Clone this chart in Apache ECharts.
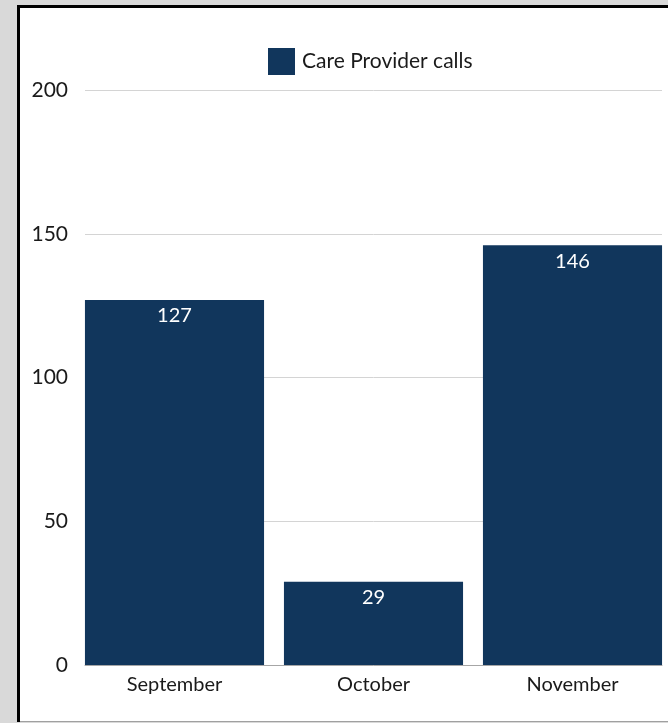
<!DOCTYPE html>
<html>
<head>
<meta charset="utf-8">
<script src="https://cdn.jsdelivr.net/npm/echarts@6/dist/echarts.min.js"></script>
<style>
  html, body { margin: 0; padding: 0; background: #d9d9d9; }
  #chart { width: 668px; height: 723px; }
</style>
</head>
<body>
<div id="chart"></div>
<script>
// Monthly call volume
const months = ['September', 'October', 'November'];
const careProviderCalls = [127, 29, 146];
const yTicks = [0, 50, 100, 150, 200];
const seriesName = 'Care Provider calls';

const FONT = 'Lato';
const BAR_COLOR = '#11365c';
const TEXT_COLOR = '#1a1a1a';

const chart = echarts.init(document.getElementById('chart'), null, { renderer: 'canvas' });

const yMin = yTicks[0];
const yMax = yTicks[yTicks.length - 1];
const yStep = yTicks[1] - yTicks[0];

chart.setOption({
  backgroundColor: '#d9d9d9',
  animation: false,
  textStyle: { fontFamily: FONT },
  graphic: [
    // white panel with a heavy top/left rule and a thin bottom rule
    { type: 'rect', z: -10, shape: { x: 17, y: 5, width: 660, height: 717 }, style: { fill: '#ffffff' } },
    { type: 'rect', z: -9, shape: { x: 17, y: 5, width: 3, height: 717 }, style: { fill: '#000000' } },
    { type: 'rect', z: -9, shape: { x: 17, y: 5, width: 660, height: 3 }, style: { fill: '#000000' } },
    { type: 'rect', z: -9, shape: { x: 20, y: 721, width: 660, height: 1 }, style: { fill: '#a0a0a0' } }
  ],
  legend: {
    left: 263,
    top: 43,
    itemWidth: 27,
    itemHeight: 27,
    icon: 'rect',
    textStyle: { fontFamily: FONT, fontSize: 21, color: TEXT_COLOR, padding: [0, 0, 0, 2] },
    data: [seriesName]
  },
  grid: [
    // bars: categories span slightly past the drawn axis so bars meet its ends
    { left: 75, top: 90, width: 597, height: 575, outerBoundsMode: 'none' },
    // axes, gridlines and y labels
    { left: 85, top: 90, width: 577, height: 575, outerBoundsMode: 'none' }
  ],
  xAxis: [
    {
      type: 'category', gridIndex: 0, data: months,
      axisLine: { show: false }, axisTick: { show: false },
      axisLabel: { fontFamily: FONT, fontSize: 20, color: TEXT_COLOR, margin: 10 }
    },
    {
      type: 'category', gridIndex: 1, data: months,
      axisLine: { show: true, lineStyle: { color: '#a6a6a6', width: 1 } },
      axisTick: { show: false }, axisLabel: { show: false }
    }
  ],
  yAxis: [
    {
      type: 'value', gridIndex: 0, min: yMin, max: yMax, interval: yStep,
      show: false, splitLine: { show: false }
    },
    {
      type: 'value', gridIndex: 1, min: yMin, max: yMax, interval: yStep,
      axisLine: { show: false }, axisTick: { show: false },
      splitLine: { show: true, lineStyle: { color: '#d4d4d4', width: 1 } },
      axisLabel: { fontFamily: FONT, fontSize: 21, color: TEXT_COLOR, margin: 17 }
    }
  ],
  series: [
    {
      name: seriesName,
      type: 'bar',
      xAxisIndex: 0,
      yAxisIndex: 0,
      data: careProviderCalls,
      barCategoryGap: '10%',
      itemStyle: { color: BAR_COLOR },
      label: {
        show: true,
        position: 'insideTop',
        distance: 6,
        color: '#ffffff',
        fontFamily: FONT,
        fontSize: 20
      }
    }
  ]
});
</script>
</body>
</html>
